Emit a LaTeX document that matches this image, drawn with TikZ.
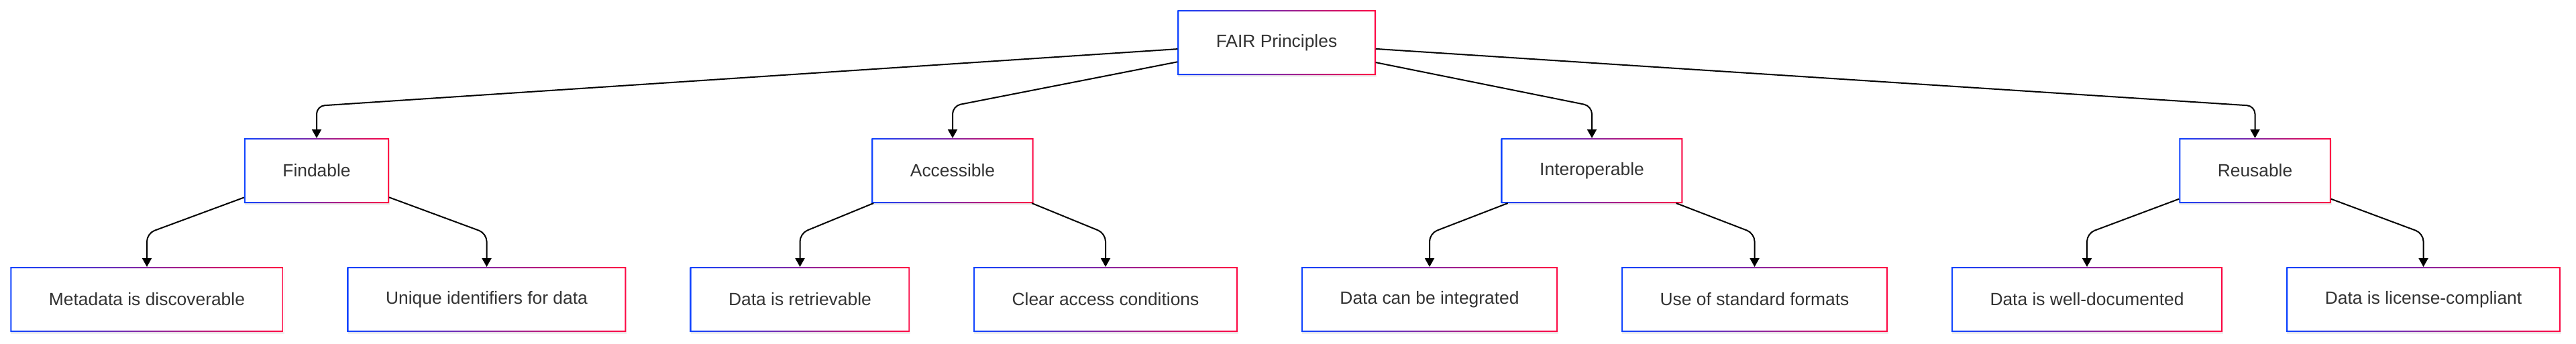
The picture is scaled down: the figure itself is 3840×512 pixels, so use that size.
\documentclass[tikz,border=0pt]{standalone}
\usepackage{fontspec}
\setmainfont{Liberation Sans}
\usetikzlibrary{arrows.meta,shadows}
\definecolor{fblue}{RGB}{16,68,255}
\definecolor{fpink}{RGB}{255,8,68}
\definecolor{txtgray}{RGB}{51,51,51}
\tikzset{>=Stealth,
  box/.style={fill=white, text=txtgray, outer sep=0pt, inner xsep=57.5pt, minimum height=97pt,
    font=\fontsize{26.4}{30}\selectfont,
    drop shadow={shadow xshift=1pt, shadow yshift=-3pt, opacity=0.12}},
  edge/.style={line width=2pt, rounded corners=12pt, -{Triangle[length=13pt,width=14pt]}}}

\begin{document}
\begin{tikzpicture}[x=1pt, y=-1pt]
  \useasboundingbox (0,0) rectangle (3840,512);
  % root and the four principles
  \node[box] (fair) at (1903,63.5) {FAIR Principles};
  \node[box] (find) at (472,254.5) {Findable};
  \node[box] (acc) at (1420,254.5) {Accessible};
  \node[box] (inter) at (2373,254.5) {Interoperable};
  \node[box] (reuse) at (3361.5,254.5) {Reusable};
  % what each principle asks for
  \node[box] (meta) at (219,446.5) {Metadata is discoverable};
  \node[box] (uniq) at (725.5,446.5) {Unique identifiers for data};
  \node[box] (retr) at (1192.5,446.5) {Data is retrievable};
  \node[box] (clear) at (1648,446.5) {Clear access conditions};
  \node[box] (integ) at (2131,446.5) {Data can be integrated};
  \node[box] (std) at (2615.5,446.5) {Use of standard formats};
  \node[box] (doc) at (3111,446.5) {Data is well-documented};
  \node[box] (lic) at (3612.5,446.5) {Data is license-compliant};
  % rows where the connectors turn down
  \coordinate (bend1) at (0,158);
  \coordinate (bend2) at (0,348);
  % gradient frames
  \foreach \n in {fair,find,acc,inter,reuse,meta,uniq,retr,clear,integ,std,doc,lic}
    \shade[left color=fblue, right color=fpink, even odd rule]
      (\n.south west) rectangle (\n.north east)
      ([shift={(2,-2)}]\n.south west) rectangle ([shift={(-2,2)}]\n.north east);
  \draw[edge] (fair) -- (find |- bend1) -- (find);
  \draw[edge] (fair) -- (acc |- bend1) -- (acc);
  \draw[edge] (fair) -- (inter |- bend1) -- (inter);
  \draw[edge] (fair) -- (reuse |- bend1) -- (reuse);
  \draw[edge] (find) -- (meta |- bend2) -- (meta);
  \draw[edge] (find) -- (uniq |- bend2) -- (uniq);
  \draw[edge] (acc) -- (retr |- bend2) -- (retr);
  \draw[edge] (acc) -- (clear |- bend2) -- (clear);
  \draw[edge] (inter) -- (integ |- bend2) -- (integ);
  \draw[edge] (inter) -- (std |- bend2) -- (std);
  \draw[edge] (reuse) -- (doc |- bend2) -- (doc);
  \draw[edge] (reuse) -- (lic |- bend2) -- (lic);
\end{tikzpicture}
\end{document}
